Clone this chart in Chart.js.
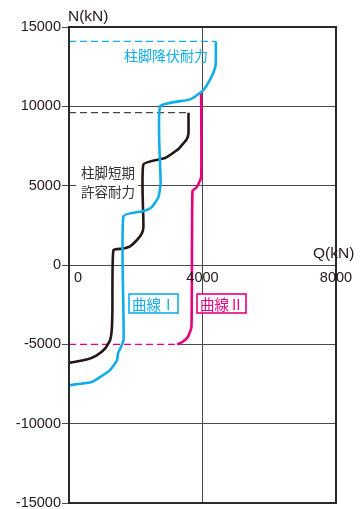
<!DOCTYPE html>
<html><head><meta charset="utf-8">
<script src="https://cdn.jsdelivr.net/npm/chart.js@4.4.1/dist/chart.umd.min.js"></script>
<style>html,body{margin:0;padding:0;background:#fff}canvas{display:block}</style>
</head><body>
<canvas id="c" width="364" height="509"></canvas>
<script>
// Axis settings
const xTicks = [0, 4000, 8000];
const yRange = [-15000, 15000];
// Curve I (blue)
const curve1X = [4400,4400,4380,4260,4020,3630,2730,2745,2680,2480,2230,1630,1635,1470,1440,1230,930,690,0];
const curve1Y = [14100,12900,12450,11820,11000,10440,10000,5150,4280,3650,3400,3070,-4740,-5560,-6000,-6630,-7070,-7370,-7580];
// Short-term allowable (black)
const allowX = [3580,3580,3525,3420,3270,3090,2880,2230,2230,2180,2030,1830,1620,1330,1300,1280,1230,1080,830,530,0];
const allowY = [9600,8300,7920,7650,7290,7020,6740,6340,2390,1980,1560,1180,1030,930,-3000,-4110,-4740,-5270,-5690,-5960,-6170];
// Curve II (magenta)
const curve2X = [3960,3960,3830,3700,3670,3560,3400,3240];
const curve2Y = [10850,5540,4910,4660,-3900,-4540,-4850,-5000];
// Dashed reference levels
const yieldLevel = 14100, yieldEnd = 4400;
const allowLevel = 9600, allowEnd = 3580;
const curve2Level = -5000, curve2End = 3240;

const BLUE = '#10aee8', MAG = '#e5007f', BLK = '#231815';
const pts = (xs, ys) => xs.map((x, i) => ({x, y: ys[i]}));

const overlay = {
  id: 'overlay',
  beforeDatasetsDraw(chart) {
    const {ctx} = chart;
    ctx.save();
    ctx.fillStyle = '#fff';
    ctx.fillRect(76, 183, 62, 17);
    ctx.restore();
  },
  afterDatasetsDraw(chart) {
    const {ctx, chartArea: a, scales: {x, y}} = chart;
    ctx.save();
    // frame
    ctx.strokeStyle = '#2a2a2a';
    ctx.lineWidth = 2;
    ctx.strokeRect(a.left, a.top, a.right - a.left, a.bottom - a.top);
    // x tick labels
    ctx.fillStyle = '#231815';
    ctx.font = '14.5px "Liberation Sans", Arial, sans-serif';
    ctx.textBaseline = 'middle';
    ctx.textAlign = 'center';
    const y0 = y.getPixelForValue(0) + 13;
    xTicks.forEach(v => {
      let px = x.getPixelForValue(v);
      if (v === 0) px += 9;
      ctx.fillText(String(v), px, y0);
    });
    // axis titles
    ctx.font = '15.5px "Liberation Sans", "Noto Sans CJK JP", sans-serif';
    ctx.textAlign = 'left';
    ctx.fillText('N(kN)', 68, 17);
    ctx.fillText('Q(kN)', 313, 254);
    // annotations
    ctx.font = '14px "Noto Sans CJK JP", sans-serif';
    ctx.fillStyle = BLUE;
    ctx.fillText('柱脚降伏耐力', 124, 56);
    ctx.fillStyle = '#333';
    ctx.font = '13.5px "Noto Sans CJK JP", sans-serif';
    ctx.fillText('柱脚短期', 81, 173);
    ctx.fillText('許容耐力', 81, 192);
    // boxes
    ctx.lineWidth = 1.6;
    ctx.strokeStyle = BLUE;
    ctx.fillStyle = '#fff';
    ctx.fillRect(129, 294, 49, 19);
    ctx.strokeRect(129, 294, 49, 19);
    ctx.fillStyle = BLUE;
    ctx.font = '14.5px "Noto Sans CJK JP", sans-serif';
    ctx.fillText('曲線Ⅰ', 132, 304);
    ctx.strokeStyle = MAG;
    ctx.fillStyle = '#fff';
    ctx.fillRect(197, 294, 49, 19);
    ctx.strokeRect(197, 294, 49, 19);
    ctx.fillStyle = MAG;
    ctx.fillText('曲線Ⅱ', 200, 304);
    ctx.restore();
  }
};

new Chart(document.getElementById('c'), {
  type: 'scatter',
  data: {
    datasets: [
      {data: pts(curve1X, curve1Y), borderColor: BLUE, borderWidth: 2.6, showLine: true, pointRadius: 0, tension: 0.15, order: 1},
      {data: pts(allowX, allowY), borderColor: BLK, borderWidth: 2.6, showLine: true, pointRadius: 0, tension: 0.15, order: 2},
      {data: pts(curve2X, curve2Y), borderColor: MAG, borderWidth: 2.6, showLine: true, pointRadius: 0, tension: 0.15, order: 3},
      {data: [{x: 0, y: yieldLevel}, {x: yieldEnd, y: yieldLevel}], borderColor: BLUE, borderWidth: 1.3, borderDash: [7, 4], showLine: true, pointRadius: 0, order: 4},
      {data: [{x: 0, y: allowLevel}, {x: allowEnd, y: allowLevel}], borderColor: '#444', borderWidth: 1.3, borderDash: [7, 4], showLine: true, pointRadius: 0, order: 5},
      {data: [{x: 0, y: curve2Level}, {x: curve2End, y: curve2Level}], borderColor: MAG, borderWidth: 1.3, borderDash: [7, 4], showLine: true, pointRadius: 0, order: 6},
      {data: [{x: 0, y: curve2Level}, {x: curve2End, y: curve2Level}], borderColor: '#fff', borderWidth: 2, showLine: true, pointRadius: 0, order: 7}
    ]
  },
  options: {
    responsive: false,
    animation: false,
    devicePixelRatio: 1,
    layout: {padding: {top: 27, bottom: 6, right: 28, left: 0}},
    plugins: {legend: {display: false}, tooltip: {enabled: false}},
    scales: {
      x: {
        type: 'linear', min: 0, max: 8000,
        ticks: {display: false, stepSize: 4000},
        grid: {color: '#4a4a4a', lineWidth: 1, drawTicks: false},
        border: {display: false},
        afterFit: s => { s.height = 0; s.paddingLeft = 0; s.paddingRight = 0; s.paddingTop = 0; s.paddingBottom = 0; }
      },
      y: {
        type: 'linear', min: yRange[0], max: yRange[1],
        ticks: {stepSize: 5000, color: '#231815', padding: 1, callback: v => String(v), font: {family: '"Liberation Sans", Arial, sans-serif', size: 14.5}},
        grid: {color: '#4a4a4a', lineWidth: 1, tickLength: 7},
        border: {display: false},
        afterFit: s => { s.width = 69; s.paddingTop = 0; s.paddingBottom = 0; s.paddingLeft = 0; s.paddingRight = 0; }
      }
    }
  },
  plugins: [overlay]
});
</script>
</body></html>
